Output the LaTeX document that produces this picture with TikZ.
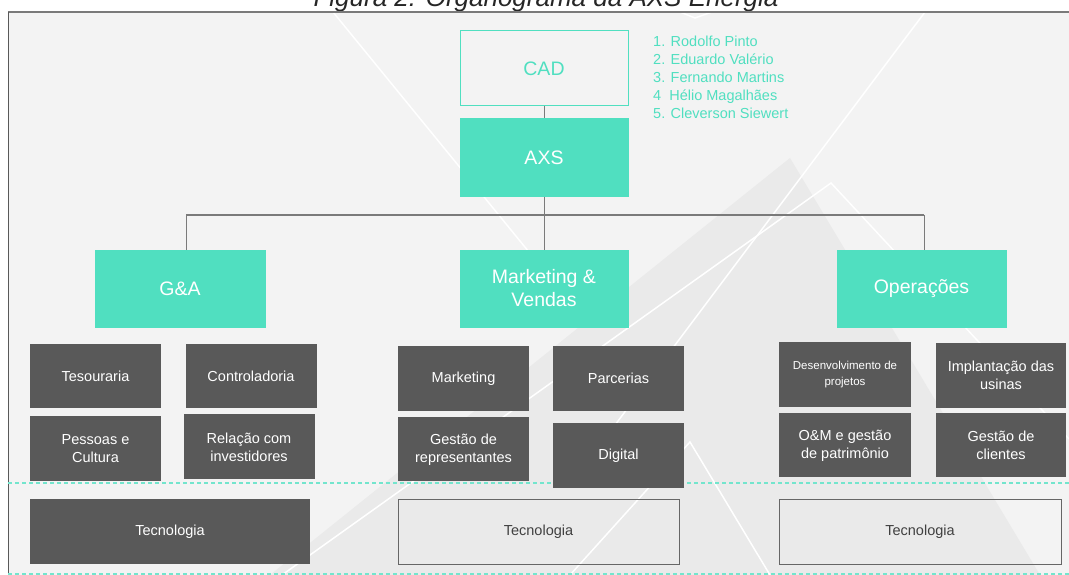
\documentclass[tikz,border=0pt]{standalone}
\usepackage{fontspec}
\setmainfont{Liberation Sans}
\usetikzlibrary{positioning}
\definecolor{axsteal}{HTML}{50DFC0}
\definecolor{axsdark}{HTML}{595959}
\definecolor{axsbg}{HTML}{F3F3F3}
\definecolor{axsshade}{HTML}{EAEAEA}
\definecolor{axsframe}{HTML}{7A7A7A}
\tikzset{
    head-box/.style={
        rectangle,
        fill=axsteal,
        draw=axsteal,
        text=white,
        minimum width=168pt,
        minimum height=77pt,
        inner sep=0pt,
        align=center,
        font=\fontsize{19.5}{23}\selectfont
    },
    board-box/.style={
        head-box,
        fill=axsbg,
        text=axsteal,
        line width=1pt
    },
    unit-box/.style={
        rectangle,
        fill=axsdark,
        text=white,
        minimum width=131pt,
        minimum height=64pt,
        inner sep=0pt,
        align=center,
        font=\fontsize{14.5}{18}\selectfont
    },
    tec-dark/.style={
        unit-box,
        minimum width=280pt,
        minimum height=65pt
    },
    tec-light/.style={
        rectangle,
        draw=black!60,
        text=black!75,
        line width=1pt,
        minimum width=281pt,
        minimum height=65pt,
        inner sep=0pt,
        font=\fontsize{14.5}{18}\selectfont
    },
    link/.style={
        draw=axsframe,
        line width=0.8pt
    },
    bus/.style={
        draw=axsframe,
        line width=1.6pt
    },
    band/.style={
        draw=axsteal!80!white,
        dash pattern=on 4pt off 3pt,
        line width=1.3pt
    },
    deco/.style={
        draw=white,
        line width=1.5pt
    }
}
\begin{document}
\begin{tikzpicture}[x=1pt,y=-1pt]
    \useasboundingbox (0,0) rectangle (1069,575);
    \clip (0,0) rectangle (1069,575);

    % caption, cut off at the top
    \node[anchor=base, font=\fontsize{26}{30}\selectfont\itshape, text=black!85] (caption) at (546,7) {Figura 2: Organograma da AXS Energia};

    % backdrop
    \fill[axsbg] (8,12) rectangle (1069,575);
    \fill[axsshade] (790,158) -- (270,575) -- (1040,575) -- cycle;
    \draw[deco] (333,12) -- (560,290);
    \draw[deco] (925,12) -- (600,445);
    \draw[deco] (282,575) -- (831,183) -- (1069,439);
    \draw[deco] (570,575) -- (690,442) -- (770,575);
    \draw[deco] (680,12) -- (695,18) -- (712,12);
    \draw[axsframe, line width=2.5pt] (8,12) -- (1069,12);
    \draw[axsdark, line width=1pt] (8,12) -- (8,575);
    \draw[band] (8,483) -- (1069,483);
    \draw[band] (8,574) -- (1069,574);

    % top
    \node[board-box, minimum height=75pt] (cad) at (544,68.5) {CAD};
    \node[head-box, minimum height=78pt, below=12pt of cad] (axs) {AXS};
    \node[anchor=north west, inner sep=0pt, align=left, text=axsteal, font=\fontsize{14.5}{18}\selectfont] (board) at (653,36) {1. Rodolfo Pinto\\2. Eduardo Valério\\3. Fernando Martins\\4\ \ Hélio Magalhães\\5. Cleverson Siewert};

    % directorates
    \node[head-box, minimum width=170pt] (gna) at (180,288.5) {G\&A};
    \node[head-box] (mkv) at (544,288.5) {Marketing \&\\Vendas};
    \node[head-box, minimum width=169pt] (ops) at (921.5,288.5) {Operações};

    % G&A
    \node[unit-box] (tes) at (95.5,376) {Tesouraria};
    \node[unit-box] (con) at (251,376) {Controladoria};
    \node[unit-box, minimum height=65pt, below=8pt of tes] (pes) {Pessoas e\\Cultura};
    \node[unit-box, minimum height=65pt, below=6pt of con, xshift=-2pt] (rel) {Relação com\\investidores};

    % Marketing & Vendas
    \node[unit-box, minimum height=65pt] (mkt) at (463.5,378.5) {Marketing};
    \node[unit-box, minimum height=65pt] (par) at (618.5,378.5) {Parcerias};
    \node[unit-box, below=6pt of mkt] (ges) {Gestão de\\representantes};
    \node[unit-box, minimum height=65pt, below=12pt of par] (dig) {Digital};

    % Operações
    \node[unit-box, minimum width=132pt, minimum height=65pt, font=\fontsize{11.5}{16}\selectfont] (dev) at (845,374.5) {Desenvolvimento de\\projetos};
    \node[unit-box, minimum width=130pt, minimum height=65pt] (imp) at (1001,375.5) {Implantação das\\usinas};
    \node[unit-box, minimum width=132pt, below=6pt of dev] (oem) {O\&M e gestão\\de patrimônio};
    \node[unit-box, minimum width=130pt, below=5pt of imp] (gcl) {Gestão de\\clientes};

    % Tecnologia row
    \node[tec-dark] (tec-gna) at (170,531.5) {Tecnologia};
    \node[tec-light] (tec-mkv) at (538.5,531.5) {Tecnologia};
    \node[tec-light, minimum width=282pt] (tec-ops) at (920,532) {Tecnologia};

    % connectors
    \coordinate (bus-l) at (186,215);
    \coordinate (bus-r) at (924,215);
    \draw[bus] (bus-l) -- (bus-r);
    \draw[link] (cad) -- (axs);
    \draw[link] (axs) -- (axs |- bus-l);
    \draw[link] (axs |- bus-l) -- (mkv);
    \draw[link] (bus-l) -- (bus-l |- gna.north);
    \draw[link] (bus-r) -- (bus-r |- ops.north);
\end{tikzpicture}
\end{document}
